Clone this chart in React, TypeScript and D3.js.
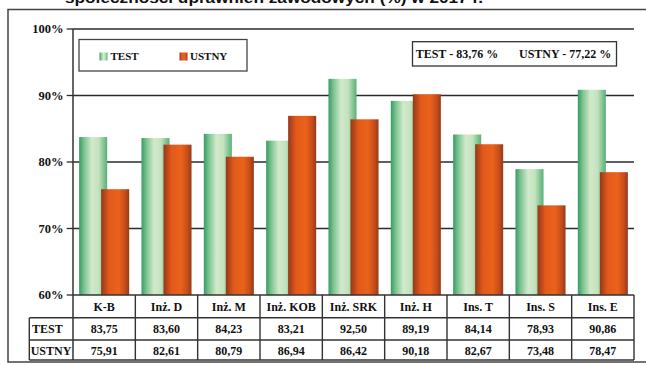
import React from "react";
import * as d3 from "d3";

const categories = ["K-B", "Inż. D", "Inż. M", "Inż. KOB", "Inż. SRK", "Inż. H", "Ins. T", "Ins. S", "Ins. E"];
const testValues = [83.75, 83.6, 84.23, 83.21, 92.5, 89.19, 84.14, 78.93, 90.86];
const oralValues = [75.91, 82.61, 80.79, 86.94, 86.42, 90.18, 82.67, 73.48, 78.47];
const seriesNames = ["TEST", "USTNY"];
const yTicks = [60, 70, 80, 90, 100];
const averagesText = ["TEST - 83,76 %", "USTNY - 77,22 %"];
const titleText = "społeczności uprawnień zawodowych (%) w 2017 r.";

const W = 646;
const H = 365;
const left = 73;
const right = 634;
const top = 29;
const bottom = 295;
const rowH = [22.7, 22.3, 20];
const labelColLeft = 29.3;

const serif = "'Liberation Serif', 'DejaVu Serif', serif";
const fmt = (v: number) => v.toFixed(2).replace(".", ",");

export default function App() {
  const x = d3.scaleBand<string>().domain(categories).range([left, right]).padding(0);
  const y = d3.scaleLinear().domain([60, 100]).range([bottom, top]);
  const bw = x.bandwidth();
  const barW = bw * 0.45;
  const step = bw * 0.353;
  const groupW = step + barW;
  const pad = (bw - groupW) / 2;

  const row1 = bottom + rowH[0];
  const row2 = row1 + rowH[1];
  const row3 = row2 + rowH[2];
  const lineColor = "#333";

  return (
    <svg
      width={W}
      height={H}
      style={{ position: "fixed", left: 0, top: 0, background: "#fff" }}
      fontFamily={serif}
    >
      <defs>
        <linearGradient id="gTest" x1="0" x2="1" y1="0" y2="0">
          <stop offset="0" stopColor="#379a66" />
          <stop offset="0.18" stopColor="#7cc48f" />
          <stop offset="0.45" stopColor="#d2e9cc" />
          <stop offset="0.7" stopColor="#c3e2bd" />
          <stop offset="1" stopColor="#56b076" />
        </linearGradient>
        <linearGradient id="gOral" x1="0" x2="1" y1="0" y2="0">
          <stop offset="0" stopColor="#93381c" />
          <stop offset="0.28" stopColor="#e2591a" />
          <stop offset="0.62" stopColor="#ea631b" />
          <stop offset="0.85" stopColor="#c84d1b" />
          <stop offset="1" stopColor="#943a1c" />
        </linearGradient>
      </defs>

      {/* heading, mostly above the visible frame */}
      <text
        x={65}
        y={3}
        fontFamily="'Liberation Sans', Arial, sans-serif"
        fontWeight="bold"
        fontSize={15}
        textLength={418}
        lengthAdjust="spacingAndGlyphs"
        fill="#111"
      >
        {titleText}
      </text>

      {/* outer frame */}
      <rect x={8} y={9.5} width={700} height={352.5} fill="none" stroke="#444" strokeWidth={1.5} />

      {/* gridlines and y axis */}
      {yTicks.map((t) => (
        <g key={t}>
          {t > 60 && (
            <line x1={left} x2={right} y1={y(t)} y2={y(t)} stroke="#2b2b2b" strokeWidth={1.5} />
          )}
          <line x1={66.7} x2={left} y1={y(t)} y2={y(t)} stroke="#2b2b2b" strokeWidth={1.3} />
          <text
            x={63.5}
            y={y(t)}
            dy="0.33em"
            textAnchor="end"
            fontWeight="bold"
            fontSize={12.5}
            fill="#111"
          >
            {t}%
          </text>
        </g>
      ))}

      {/* bars */}
      {categories.map((c, i) => (
        <rect
          key={"t" + c}
          x={(x(c) as number) + pad}
          y={y(testValues[i])}
          width={barW}
          height={bottom - y(testValues[i])}
          fill="url(#gTest)"
        />
      ))}
      {categories.map((c, i) => (
        <rect
          key={"o" + c}
          x={(x(c) as number) + pad + step}
          y={y(oralValues[i])}
          width={barW}
          height={bottom - y(oralValues[i])}
          fill="url(#gOral)"
        />
      ))}

      <line x1={left} x2={left} y1={top} y2={row3} stroke={lineColor} strokeWidth={1.5} />

      {/* legend */}
      <rect x={79} y={39.5} width={168} height={31.5} fill="#fff" stroke="#444" strokeWidth={1.3} />
      <rect x={99.5} y={52.5} width={8} height={8} fill="url(#gTest)" />
      <text x={110.5} y={60} fontWeight="bold" fontSize={11} fill="#111">
        {seriesNames[0]}
      </text>
      <rect x={179.5} y={52.5} width={8} height={8} fill="url(#gOral)" />
      <text x={190} y={60} fontWeight="bold" fontSize={11} fill="#111">
        {seriesNames[1]}
      </text>

      {/* overall averages */}
      <rect x={412.5} y={41.7} width={204} height={24.3} fill="#fff" stroke="#333" strokeWidth={1.3} />
      <text x={415.7} y={58} fontWeight="bold" fontSize={12} fill="#111">
        {averagesText[0]}
      </text>
      <text x={519} y={58} fontWeight="bold" fontSize={12} fill="#111">
        {averagesText[1]}
      </text>

      {/* data table */}
      <g stroke={lineColor} strokeWidth={1.4}>
        <line x1={left} x2={right} y1={bottom} y2={bottom} />
        <line x1={labelColLeft} x2={right} y1={row1} y2={row1} />
        <line x1={labelColLeft} x2={right} y1={row2} y2={row2} />
        <line x1={labelColLeft} x2={right} y1={row3} y2={row3} />
        <line x1={labelColLeft} x2={labelColLeft} y1={row1} y2={row3} />
        {categories.map((c) => (
          <line key={"v" + c} x1={(x(c) as number) + bw} x2={(x(c) as number) + bw} y1={bottom} y2={row3} />
        ))}
      </g>
      {categories.map((c, i) => {
        const cx = (x(c) as number) + bw / 2;
        return (
          <g key={"cell" + c} fontWeight="bold" fontSize={12} textAnchor="middle" fill="#111">
            <text x={cx} y={(bottom + row1) / 2} dy="0.38em">{c}</text>
            <text x={cx} y={(row1 + row2) / 2} dy="0.38em">{fmt(testValues[i])}</text>
            <text x={cx} y={(row2 + row3) / 2} dy="0.38em">{fmt(oralValues[i])}</text>
          </g>
        );
      })}
      <text x={32} y={(row1 + row2) / 2} dy="0.38em" fontWeight="bold" fontSize={12} fill="#111">
        {seriesNames[0]}
      </text>
      <text x={30.7} y={(row2 + row3) / 2} dy="0.38em" fontWeight="bold" fontSize={12} fill="#111">
        {seriesNames[1]}
      </text>
    </svg>
  );
}
